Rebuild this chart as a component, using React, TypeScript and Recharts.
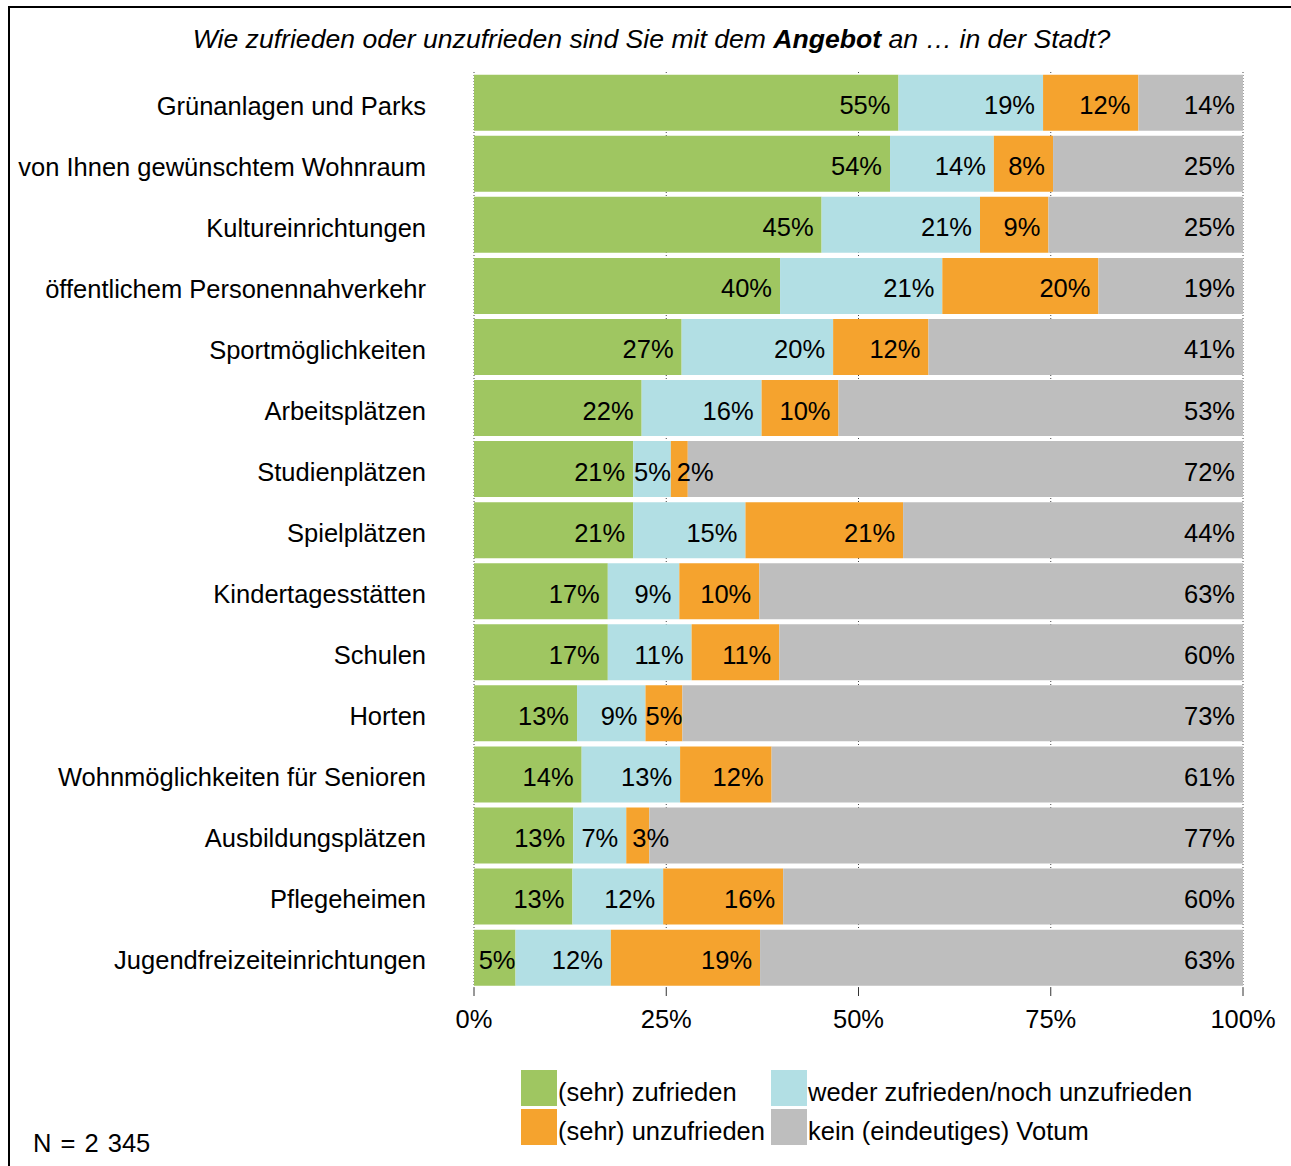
import { BarChart, Bar, XAxis, YAxis, CartesianGrid, LabelList } from "recharts";

// Kategorien (von oben nach unten)
const categories = [
  "Grünanlagen und Parks",
  "von Ihnen gewünschtem Wohnraum",
  "Kultureinrichtungen",
  "öffentlichem Personennahverkehr",
  "Sportmöglichkeiten",
  "Arbeitsplätzen",
  "Studienplätzen",
  "Spielplätzen",
  "Kindertagesstätten",
  "Schulen",
  "Horten",
  "Wohnmöglichkeiten für Senioren",
  "Ausbildungsplätzen",
  "Pflegeheimen",
  "Jugendfreizeiteinrichtungen",
];

// Anteile in Prozent
const zufrieden = [55.2, 54.1, 45.2, 39.8, 27.0, 21.8, 20.7, 20.7, 17.4, 17.4, 13.4, 14.0, 12.9, 12.8, 5.4];
const weder = [18.8, 13.5, 20.6, 21.1, 19.7, 15.6, 4.9, 14.6, 9.3, 10.9, 8.9, 12.8, 6.9, 11.8, 12.4];
const unzufrieden = [12.4, 7.7, 8.9, 20.3, 12.4, 10.0, 2.2, 20.5, 10.4, 11.4, 4.8, 11.9, 3.0, 15.6, 19.4];
const keinVotum = [13.6, 24.7, 25.3, 18.8, 40.9, 52.6, 72.2, 44.2, 62.9, 60.3, 72.9, 61.3, 77.2, 59.8, 62.8];

const xTicks = [0, 25, 50, 75, 100];

const series = [
  { key: "zufrieden", name: "(sehr) zufrieden", color: "#9fc661" },
  { key: "weder", name: "weder zufrieden/noch unzufrieden", color: "#b2dfe4" },
  { key: "unzufrieden", name: "(sehr) unzufrieden", color: "#f5a32e" },
  { key: "keinVotum", name: "kein (eindeutiges) Votum", color: "#bebebe" },
];

const data = categories.map((name, i) => ({
  name,
  zufrieden: zufrieden[i],
  weder: weder[i],
  unzufrieden: unzufrieden[i],
  keinVotum: keinVotum[i],
}));

const FONT = '"Liberation Sans", Arial, sans-serif';
const FS = 25.5;

// grobe Textbreite fuer Arial-Ziffern
const textWidth = (t: string) =>
  t.split("").reduce((w, c) => w + (c === "%" ? 0.889 : 0.556), 0) * FS;

const renderLabel = (props: any) => {
  const { x, y, width, height, value } = props;
  const text = `${Math.round(Number(value))}%`;
  const tw = textWidth(text);
  let tx = x + width - 8;
  let anchor: "end" | "start" = "end";
  if (width < tw + 8 && width >= tw) {
    tx = x + width;
  } else if (width < tw) {
    tx = x + 6;
    anchor = "start";
  }
  return (
    <text
      x={tx}
      y={y + height / 2 + 11.5}
      textAnchor={anchor}
      fontSize={FS}
      fontFamily={FONT}
      fill="#000"
    >
      {text}
    </text>
  );
};

const YTick = ({ x, y, payload }: any) => (
  <text x={x} y={y} dy={12} textAnchor="end" fontSize={FS} fontFamily={FONT} fill="#000">
    {payload.value}
  </text>
);

const XTick = ({ x, y, payload }: any) => (
  <text x={x} y={y} dy={28} textAnchor="middle" fontSize={FS} fontFamily={FONT} fill="#000">
    {payload.value}%
  </text>
);

export default function App() {
  return (
    <div style={{ position: "absolute", left: 0, top: 0, width: 1291, height: 1166, background: "#fff", fontFamily: FONT }}>
      <div
        style={{
          position: "absolute",
          left: 8,
          top: 6,
          width: 1300,
          height: 1200,
          borderTop: "2px solid #000",
          borderLeft: "2px solid #000",
          boxSizing: "border-box",
        }}
      />
      <div style={{ position: "absolute", left: 0, top: 0 }}>
        <BarChart
          width={1291}
          height={1166}
          data={data}
          layout="vertical"
          margin={{ top: 72, right: 48, bottom: 138, left: 0 }}
          barCategoryGap={2.7}
        >
          <CartesianGrid horizontal={false} stroke="#444" strokeDasharray="1 2" />
          <XAxis
            type="number"
            domain={[0, 100]}
            ticks={xTicks}
            interval={0}
            allowDataOverflow
            axisLine={false}
            tickSize={12}
            tickMargin={0}
            height={40}
            tickLine={{ stroke: "#333", strokeDasharray: "0 4 8 100" }}
            tick={<XTick />}
          />
          <YAxis
            type="category"
            dataKey="name"
            width={474}
            interval={0}
            axisLine={false}
            tickLine={false}
            tickSize={0}
            tickMargin={48}
            tick={<YTick />}
          />
          {series.map((s) => (
            <Bar key={s.key} dataKey={s.key} name={s.name} stackId="a" fill={s.color} isAnimationActive={false}>
              <LabelList dataKey={s.key} content={renderLabel} />
            </Bar>
          ))}
        </BarChart>
      </div>
      <svg
        width={1291}
        height={1166}
        style={{ position: "absolute", left: 0, top: 0, pointerEvents: "none" }}
        fontFamily={FONT}
      >
        <text x={651.5} y={48} textAnchor="middle" fontSize={26.6} fontStyle="italic" fill="#000">
          Wie zufrieden oder unzufrieden sind Sie mit dem <tspan fontWeight="bold">Angebot</tspan> an … in der Stadt?
        </text>
        {series.map((s, i) => {
          const col = i % 2 === 1 ? 1 : 0;
          const row = i >= 2 ? 1 : 0;
          const sx = col === 0 ? 521 : 771;
          const sy = row === 0 ? 1070 : 1109;
          return (
            <g key={s.key}>
              <rect x={sx} y={sy} width={36} height={36} fill={s.color} />
              <text x={sx + 37} y={sy + 30.5} fontSize={FS} fill="#000">
                {s.name}
              </text>
            </g>
          );
        })}
        <text x={33} y={1152} fontSize={FS} wordSpacing={2} fill="#000">
          N = 2 345
        </text>
      </svg>
    </div>
  );
}
